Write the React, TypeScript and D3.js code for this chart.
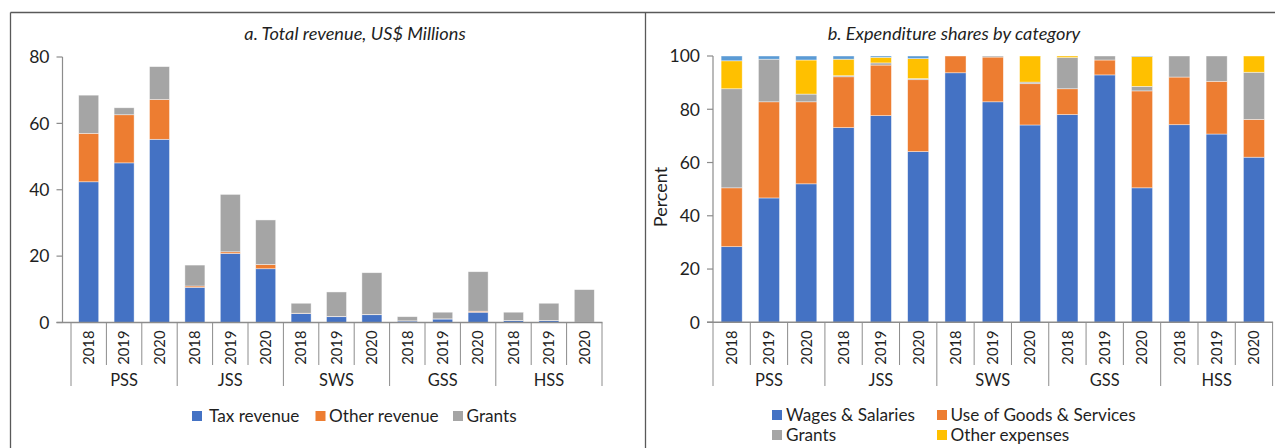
import React from "react";
import * as d3 from "d3";

const groups = ["PSS", "JSS", "SWS", "GSS", "HSS"];
const years = ["2018", "2019", "2020"];

// Panel a: Total revenue, US$ millions
const revTax = [42.4, 48.1, 55.2, 10.6, 20.8, 16.2, 2.7, 1.75, 2.35, 0.45, 1.05, 3.1, 0.55, 0.55, 0.1];
const revOther = [14.6, 14.5, 12.0, 0.4, 0.5, 1.3, 0.1, 0.1, 0.1, 0.05, 0.05, 0.3, 0.05, 0.05, 0];
const revGrants = [11.5, 2.1, 9.9, 6.3, 17.3, 13.4, 3.0, 7.35, 12.55, 1.25, 2.0, 11.9, 2.5, 5.2, 9.8];
const revTicks = [0, 20, 40, 60, 80];

// Panel b: Expenditure shares, percent
const expWages = [28.4, 46.7, 52.0, 73.1, 77.6, 64.1, 93.7, 82.8, 74.1, 78.0, 92.9, 50.5, 74.2, 70.7, 62.0];
const expGoods = [22.1, 36.1, 30.8, 19.1, 19.0, 27.0, 6.3, 16.8, 15.5, 9.7, 5.6, 36.4, 17.9, 19.8, 14.2];
const expGrants = [37.2, 16.0, 2.9, 0.4, 0.8, 0.4, 0, 0.4, 0.6, 11.7, 1.5, 1.7, 7.9, 9.5, 17.7];
const expOther = [10.5, 0, 12.8, 6.2, 2.1, 7.5, 0, 0, 9.8, 0.6, 0, 11.2, 0, 0, 6.1];
const expRest = [1.8, 1.2, 1.5, 1.2, 0.5, 1.0, 0, 0, 0, 0, 0, 0.2, 0, 0, 0];
const expTicks = [0, 20, 40, 60, 80, 100];

const BLUE = "#4472C4";
const ORANGE = "#ED7D31";
const GREY = "#A5A5A5";
const YELLOW = "#FFC000";
const LIGHTBLUE = "#5B9BD5";

const FONT = "Lato, 'Open Sans', sans-serif";
const TXT = "#1f1f1f";
const AXIS = "#8c8c8c";

type Series = { name: string; values: number[]; color: string };

const cats = groups.flatMap((g) => years.map((y) => `${g}-${y}`));

function Panel(props: {
  series: Series[];
  domainMax: number;
  ticks: number[];
  axisX: number;
  x0: number;
  x1: number;
  yTop: number;
  yBase: number;
  title: string;
  titleX: number;
  yLabel?: string;
  yLabelX?: number;
}) {
  const { series, domainMax, ticks, axisX, x0, x1, yTop, yBase, title, titleX, yLabel, yLabelX } = props;
  const y = d3.scaleLinear().domain([0, domainMax]).range([yBase, yTop]);
  const x = d3
    .scaleBand<string>()
    .domain(cats)
    .range([x0, x1])
    .paddingInner(0.435)
    .paddingOuter(0.2175);
  const step = x.step();
  const stackData = cats.map((c, i) => {
    const o: Record<string, number | string> = { cat: c };
    series.forEach((s) => (o[s.name] = s.values[i]));
    return o;
  });
  const stack = d3.stack<Record<string, number | string>>().keys(series.map((s) => s.name));
  const layers = stack(stackData as any);
  const yearDivY = 365;
  const groupDivY = 386;
  return (
    <g>
      <text
        x={titleX}
        y={40}
        textAnchor="middle"
        fontFamily={FONT}
        fontStyle="italic"
        fontSize={18.2}
        fill={TXT}
      >
        {title}
      </text>
      {yLabel && (
        <text
          transform={`translate(${yLabelX},197) rotate(-90)`}
          textAnchor="middle"
          fontFamily={FONT}
          fontSize={18}
          fill={TXT}
        >
          {yLabel}
        </text>
      )}
      {layers.map((layer, li) => (
        <g key={li} fill={series[li].color}>
          {layer.map((d, i) => {
            const h = y(d[0]) - y(d[1]);
            if (h <= 0) return null;
            return (
              <rect
                key={i}
                x={x(cats[i])}
                y={y(d[1])}
                width={x.bandwidth()}
                height={h}
                stroke="#ffffff"
                strokeOpacity={0.6}
                strokeWidth={0.7}
              />
            );
          })}
        </g>
      ))}
      {/* y axis */}
      <line x1={axisX} x2={axisX} y1={yTop} y2={yBase} stroke={AXIS} strokeWidth={1.2} />
      {ticks.map((t) => (
        <g key={t}>
          <line x1={axisX - 6} x2={axisX} y1={y(t)} y2={y(t)} stroke={AXIS} strokeWidth={1.2} />
          <text
            x={axisX - 13}
            y={y(t)}
            dy="0.36em"
            textAnchor="end"
            fontFamily={FONT}
            fontSize={17.5}
            fill={TXT}
          >
            {t}
          </text>
        </g>
      ))}
      {/* baseline */}
      <line x1={axisX - 6} x2={x1 + 0.5} y1={yBase} y2={yBase} stroke={AXIS} strokeWidth={1.4} />
      {/* category dividers */}
      {d3.range(cats.length + 1).map((k) => {
        const xx = x0 + k * step;
        const isGroup = k % years.length === 0;
        return (
          <line
            key={k}
            x1={xx}
            x2={xx}
            y1={yBase}
            y2={isGroup ? groupDivY : yearDivY}
            stroke={AXIS}
            strokeWidth={1}
          />
        );
      })}
      {cats.map((c, i) => {
        const cx = x0 + (i + 0.5) * step;
        return (
          <text
            key={c}
            transform={`translate(${cx},${yBase + 8}) rotate(-90)`}
            textAnchor="end"
            dy="0.36em"
            fontFamily={FONT}
            fontSize={14.8}
            fill={TXT}
          >
            {years[i % years.length]}
          </text>
        );
      })}
      {groups.map((g, gi) => {
        const cx = x0 + (gi * years.length + years.length / 2) * step;
        return (
          <text
            key={g}
            x={cx}
            y={380}
            dy="0.36em"
            textAnchor="middle"
            fontFamily={FONT}
            fontSize={16.5}
            fill={TXT}
          >
            {g}
          </text>
        );
      })}
    </g>
  );
}

function LegendItem(props: { x: number; y: number; color: string; label: string; gap?: number }) {
  const { x, y, color, label } = props;
  const gap = props.gap ?? 17;
  return (
    <g>
      <rect x={x} y={y - 5} width={10} height={10} fill={color} />
      <text x={x + gap} y={y} dy="0.36em" fontFamily={FONT} fontSize={17.2} fill={TXT}>
        {label}
      </text>
    </g>
  );
}

export default function App() {
  const revSeries: Series[] = [
    { name: "Tax revenue", values: revTax, color: BLUE },
    { name: "Other revenue", values: revOther, color: ORANGE },
    { name: "Grants", values: revGrants, color: GREY },
  ];
  const expSeries: Series[] = [
    { name: "Wages & Salaries", values: expWages, color: BLUE },
    { name: "Use of Goods & Services", values: expGoods, color: ORANGE },
    { name: "Grants", values: expGrants, color: GREY },
    { name: "Other expenses", values: expOther, color: YELLOW },
    { name: "Rest", values: expRest, color: LIGHTBLUE },
  ];
  return (
    <svg
      width={1275}
      height={448}
      style={{ position: "absolute", left: 0, top: 0, background: "#fff" }}
    >
      <rect x={0} y={0} width={1275} height={448} fill="#fff" />
      {/* panel frames */}
      <line x1={10.5} x2={1275} y1={12.5} y2={12.5} stroke="#595959" strokeWidth={1.3} />
      <line x1={10.5} x2={10.5} y1={12.5} y2={448} stroke="#595959" strokeWidth={1.3} />
      <line x1={645.5} x2={645.5} y1={12.5} y2={448} stroke="#595959" strokeWidth={1.3} />

      <Panel
        series={revSeries}
        domainMax={80}
        ticks={revTicks}
        axisX={62.5}
        x0={71}
        x1={602}
        yTop={57}
        yBase={322.5}
        title="a. Total revenue, US$ Millions"
        titleX={355}
      />
      <Panel
        series={expSeries}
        domainMax={100}
        ticks={expTicks}
        axisX={713}
        x0={713}
        x1={1272.6}
        yTop={56}
        yBase={322.3}
        title="b. Expenditure shares by category"
        titleX={954}
        yLabel="Percent"
        yLabelX={667}
      />

      <LegendItem x={192} y={416} color={BLUE} label="Tax revenue" />
      <LegendItem x={315.5} y={416} color={ORANGE} label="Other revenue" gap={13.5} />
      <LegendItem x={453} y={416} color={GREY} label="Grants" gap={13.5} />

      <LegendItem x={772} y={415} color={BLUE} label="Wages & Salaries" gap={14} />
      <LegendItem x={937} y={415} color={ORANGE} label="Use of Goods & Services" gap={13.6} />
      <LegendItem x={772} y={435} color={GREY} label="Grants" gap={14} />
      <LegendItem x={937} y={435} color={YELLOW} label="Other expenses" gap={13.6} />
    </svg>
  );
}
